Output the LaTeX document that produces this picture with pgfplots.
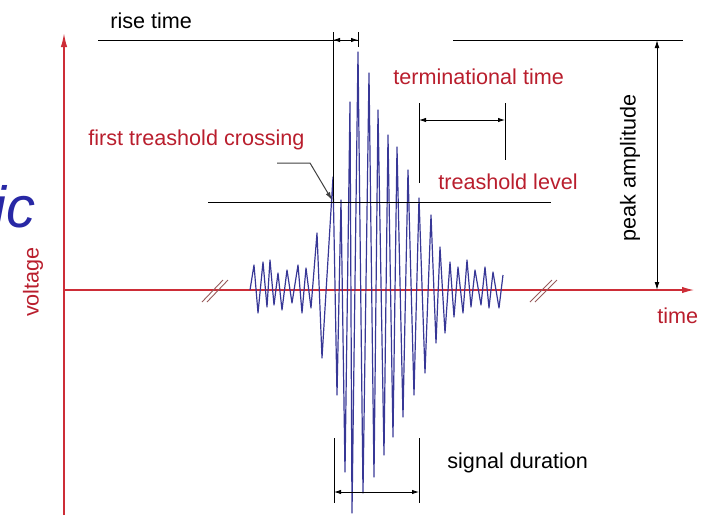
\documentclass[border=0pt]{standalone}
\usepackage{pgfplots}
\pgfplotsset{compat=1.18}
\usepackage{fontspec}
\setmainfont{Liberation Sans}
\usetikzlibrary{arrows.meta}
\definecolor{axred}{RGB}{205,45,55}
\definecolor{txtred}{RGB}{185,30,45}
\definecolor{wave}{RGB}{55,55,150}
\definecolor{icblue}{RGB}{40,40,165}
\definecolor{brk}{RGB}{150,90,90}
\tikzset{lbl/.style={font=\fontsize{10.8}{13}\selectfont, inner sep=0pt}}
\begin{document}
\begin{tikzpicture}
\begin{axis}[name=ax, width=351pt, height=257.5pt, scale only axis,
  axis lines=none, xmin=0, xmax=702, ymin=0, ymax=515, y dir=reverse, clip=false,
  every axis plot/.append style={line join=round}]
% axes
\addplot[axred, line width=0.75pt, -{Latex[length=7pt,width=3.2pt]}] coordinates {(64,515) (64,33)};
\addplot[axred, line width=0.6pt, -{Latex[length=6pt,width=3.2pt]}] coordinates {(64,290) (694,290)};
% break marks
\addplot[brk, line width=0.45pt] coordinates {(202,302) (223,280)};
\addplot[brk, line width=0.45pt] coordinates {(207,302) (228,280)};
\addplot[brk, line width=0.45pt] coordinates {(530,302) (552,280)};
\addplot[brk, line width=0.45pt] coordinates {(535,302) (557,280)};
% waveform
\addplot[wave, line width=0.6pt] coordinates {
(250,290)(254,265)(258,313)(263,262)(267,307)(270,260)(274,305)(278,273)(282,310)
(287,270)(292,303)(298,265)(302,313)(306,268)(311,308)(317,233)(322,358)(333,177)
(337,395)(341,200)(345,472)(350,102)(352,513)(358,52)(363,493)(369,73)(374,477)
(378,110)(384,455)(388,135)(393,437)(397,147)(403,417)(408,170)(414,395)(419,198)
(425,373)(431,215)(436,343)(440,247)(445,333)(450,262)(454,317)(458,267)(463,313)
(467,260)(471,307)(475,270)(481,305)(485,267)(489,308)(493,272)(499,308)(503,275)};
% reference lines
\addplot[black, line width=0.5pt] coordinates {(98,40) (358,40)};
\addplot[black, line width=0.5pt] coordinates {(453,40) (683,40)};
\addplot[black, line width=0.5pt] coordinates {(208,202) (551,202)};
% rise time
\addplot[black, line width=0.5pt] coordinates {(333,32) (333,202)};
\addplot[black, line width=0.5pt] coordinates {(358,32) (358,47)};
\addplot[black, line width=0.4pt, {Latex[length=3.5pt,width=2.2pt]}-{Latex[length=3.5pt,width=2.2pt]}] coordinates {(333,40) (358,40)};
% terminational time
\addplot[black, line width=0.5pt] coordinates {(419,103) (419,183)};
\addplot[black, line width=0.5pt] coordinates {(505,103) (505,160)};
\addplot[black, line width=0.4pt, {Latex[length=3.5pt,width=2.2pt]}-{Latex[length=3.5pt,width=2.2pt]}] coordinates {(419,120) (505,120)};
% signal duration
\addplot[black, line width=0.5pt] coordinates {(334,438) (334,503)};
\addplot[black, line width=0.5pt] coordinates {(419,438) (419,503)};
\addplot[black, line width=0.4pt, {Latex[length=3.5pt,width=2.2pt]}-{Latex[length=3.5pt,width=2.2pt]}] coordinates {(334,492) (419,492)};
% peak amplitude
\addplot[black, line width=0.5pt, {Latex[length=4pt,width=2.4pt]}-{Latex[length=4pt,width=2.4pt]}] coordinates {(657,40) (657,290)};
% leader for first threshold crossing
\addplot[black!75, line width=0.5pt, -{Latex[length=4pt,width=2.4pt]}] coordinates {(277,163) (310,163) (332,200)};
% texts
\node[lbl, anchor=base west] at (axis cs:110,28) {rise time};
\node[lbl, anchor=base west, text=txtred] at (axis cs:88,145) {first treashold crossing};
\node[lbl, anchor=base west, text=txtred] at (axis cs:393,84) {terminational time};
\node[lbl, anchor=base west, text=txtred] at (axis cs:438,189) {treashold level};
\node[lbl, anchor=base west, text=txtred] at (axis cs:657,323) {time};
\node[lbl, anchor=base west] at (axis cs:447,468) {signal duration};
\node[lbl, rotate=90, text=txtred] at (axis cs:33,282) {voltage};
\node[lbl, rotate=90] at (axis cs:630,168) {peak amplitude};
\node[inner sep=0pt, anchor=base east, text=icblue, font=\fontsize{29}{32}\selectfont\itshape] at (axis cs:36,227) {ic};
\end{axis}
\pgfresetboundingbox
\path (ax.south west) rectangle (ax.north east);
\end{tikzpicture}
\end{document}
